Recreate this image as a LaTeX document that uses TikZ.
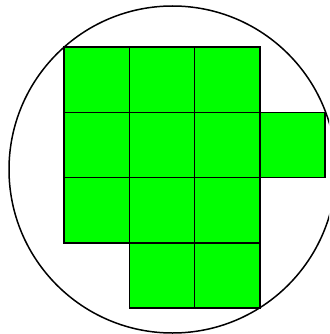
\documentclass[tikz,border=0pt]{standalone}
\begin{document}
\begin{tikzpicture}[x=1pt,y=-1pt,
  cell/.style={draw=black, fill=green, line width=1.5pt, minimum size=65.25pt, inner sep=0pt, outer sep=0pt},
  rim/.style={draw=black, circle, line width=1.5pt, minimum size=327pt, inner sep=0pt}]
\useasboundingbox (0,0) rectangle (329,334);
\clip (0,0) rectangle (329,334);
\node[rim] (disc) at (172.5,169.5) {};
\foreach \r/\c in {0/0,0/1,0/2,1/0,1/1,1/2,1/3,2/0,2/1,2/2,3/1,3/2}{
  \node[cell] (c\r\c) at ({64+65.25*\c+32.625},{47+65.25*\r+32.625}) {};
}
\end{tikzpicture}
\end{document}
